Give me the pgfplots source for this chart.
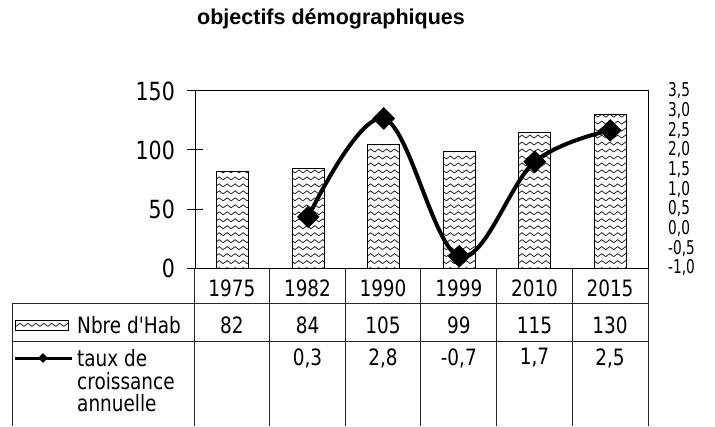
\documentclass[border=0pt]{standalone}
\usepackage{pgfplots}
\pgfplotsset{compat=1.18}
\usepackage{pgfplotstable}
\usetikzlibrary{patterns,shapes.geometric}
\usepackage{fontspec}
\setmainfont{DejaVu Sans}
\newfontfamily\tblfont[FakeStretch=0.82]{DejaVu Sans}
\newfontfamily\rfont[FakeStretch=0.72]{DejaVu Sans}
\newfontfamily\titlefont{Liberation Sans}

\pgfdeclarepatternformonly{zigzag}{\pgfqpoint{-1pt}{-1pt}}{\pgfqpoint{9pt}{8pt}}{\pgfqpoint{8pt}{7pt}}{%
  \pgfsetlinewidth{0.8pt}%
  \pgfpathmoveto{\pgfqpoint{0pt}{2pt}}%
  \pgfpathlineto{\pgfqpoint{4pt}{5pt}}%
  \pgfpathlineto{\pgfqpoint{8pt}{2pt}}%
  \pgfusepath{stroke}%
}

\pgfplotstableread{
x pop
0 82
1 84
2 105
3 99
4 115
5 130
}\popdata
\pgfplotstableread{
x taux
1 0.3
2 2.8
3 -0.7
4 1.7
5 2.5
}\tauxdata

\begin{document}
\begin{tikzpicture}[x=1bp,y=1bp]
\useasboundingbox (0,0) rectangle (715,426);
\begin{axis}[
  at={(195bp,158bp)}, anchor=south west,
  scale only axis, width=453bp, height=177bp,
  xmin=-0.5, xmax=5.5, ymin=0, ymax=150,
  xtick=\empty,
  ytick={0,50,100,150},
  yticklabels={0,50,100,150},
  ytick pos=left,
  tick align=center,
  major tick length=16bp,
  tick style={black, line width=1bp},
  axis line style={black, line width=1bp},
  yticklabel style={font=\tblfont\fontsize{25bp}{25bp}\selectfont, anchor=east, inner sep=0pt, xshift=-12bp},
  clip=false,
]
\addplot[ybar, bar width=32bp, draw=black, line width=1bp, pattern=zigzag, pattern color=black!85] table[x=x,y=pop]{\popdata};
\end{axis}
\begin{axis}[
  at={(195bp,158bp)}, anchor=south west,
  scale only axis, width=453bp, height=177bp,
  xmin=-0.5, xmax=5.5, ymin=-1, ymax=3.5,
  axis x line=none, axis y line*=right,
  y axis line style={draw=none},
  ytick={-1,-0.5,0,0.5,1,1.5,2,2.5,3,3.5},
  yticklabels={{-1,0},{-0,5},{0,0},{0,5},{1,0},{1,5},{2,0},{2,5},{3,0},{3,5}},
  major tick length=0pt,
  yticklabel style={font=\rfont\fontsize{19bp}{19bp}\selectfont, anchor=west, inner sep=0pt, xshift=20bp},
  clip=false,
]
\addplot[black, line width=4bp, smooth, tension=0.6, mark=square*, mark size=7.5bp, mark options={rotate=45, solid, line width=1bp}] table[x=x,y=taux]{\tauxdata};
\end{axis}

% data table
\begin{scope}[line width=0.8bp, black!85]
  \foreach \xx in {194,269.5,345,420.5,496,572,648} {\draw (\xx,158) -- (\xx,0);}
  \draw (12,123) -- (648,123);
  \draw (12,85) -- (648,85);
  \draw (12,123) -- (12,0);
\end{scope}
\begin{scope}[every node/.style={font=\tblfont\fontsize{22.5bp}{26bp}\selectfont, inner sep=0pt}]
  \foreach \cx/\yr/\pv/\tv in {231.8/1975/82/{}, 307.5/1982/84/{0,3}, 383/1990/105/{2,8}, 458.8/1999/99/{-0,7}, 534.5/2010/115/{1,7}, 610/2015/130/{2,5}} {
    \node at (\cx,138) {\yr};
    \node at (\cx,101) {\pv};
    \node at (\cx,68) {\tv};
  }
  \node[anchor=west] at (77,101) {Nbre d\symbol{39}Hab};
  \node[anchor=west] at (77,68) {taux de};
  \node[anchor=west] at (77,45) {croissance};
  \node[anchor=west] at (77,23) {annuelle};
\end{scope}
\draw[line width=0.8bp, pattern=zigzag, pattern color=black!85] (15,96) rectangle (68,106);
\draw[line width=3bp] (15,68) -- (72,68);
\node[diamond, fill=black, minimum size=10bp, inner sep=0pt] at (43,68) {};

\node[anchor=base west, font=\titlefont\bfseries\fontsize{21.5bp}{21.5bp}\selectfont, inner sep=0pt] at (197,401) {objectifs démographiques};
\end{tikzpicture}
\end{document}
